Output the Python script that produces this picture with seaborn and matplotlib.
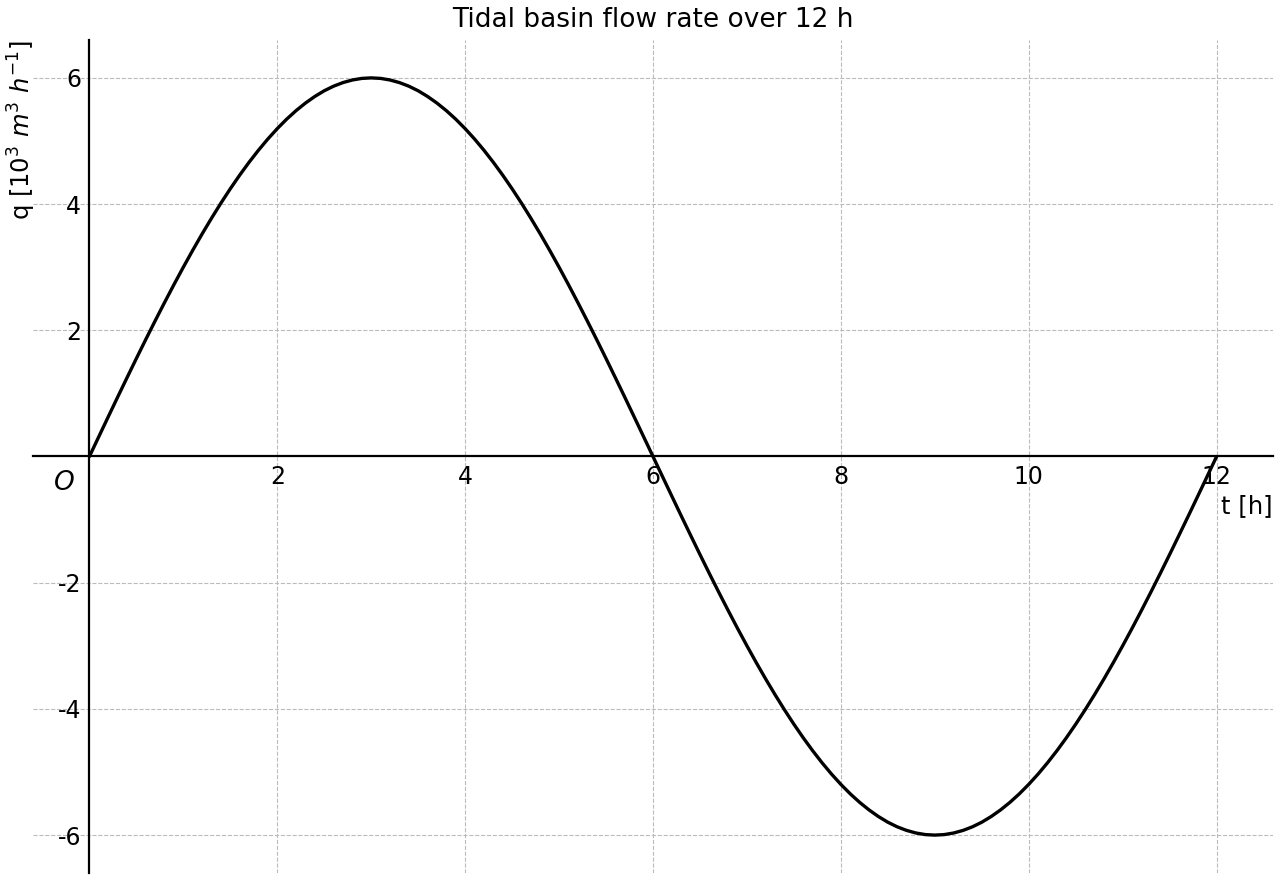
import matplotlib
matplotlib.use("Agg")
import matplotlib.pyplot as plt
import seaborn as sns
import pandas as pd

# time [h] (read at 0.1 h steps)
t_hours = [
    0.0, 0.1, 0.2, 0.3, 0.4, 0.5, 0.6, 0.7, 0.8, 0.9,
    1.0, 1.1, 1.2, 1.3, 1.4, 1.5, 1.6, 1.7, 1.8, 1.9,
    2.0, 2.1, 2.2, 2.3, 2.4, 2.5, 2.6, 2.7, 2.8, 2.9,
    3.0, 3.1, 3.2, 3.3, 3.4, 3.5, 3.6, 3.7, 3.8, 3.9,
    4.0, 4.1, 4.2, 4.3, 4.4, 4.5, 4.6, 4.7, 4.8, 4.9,
    5.0, 5.1, 5.2, 5.3, 5.4, 5.5, 5.6, 5.7, 5.8, 5.9,
    6.0, 6.1, 6.2, 6.3, 6.4, 6.5, 6.6, 6.7, 6.8, 6.9,
    7.0, 7.1, 7.2, 7.3, 7.4, 7.5, 7.6, 7.7, 7.8, 7.9,
    8.0, 8.1, 8.2, 8.3, 8.4, 8.5, 8.6, 8.7, 8.8, 8.9,
    9.0, 9.1, 9.2, 9.3, 9.4, 9.5, 9.6, 9.7, 9.8, 9.9,
    10.0, 10.1, 10.2, 10.3, 10.4, 10.5, 10.6, 10.7, 10.8, 10.9,
    11.0, 11.1, 11.2, 11.3, 11.4, 11.5, 11.6, 11.7, 11.8, 11.9,
    12.0]
# flow rate [10^3 m^3 / h]
q_flow = [
    0.000, 0.314, 0.627, 0.939, 1.247, 1.553, 1.854, 2.150, 2.440, 2.724,
    3.000, 3.268, 3.527, 3.776, 4.015, 4.243, 4.459, 4.663, 4.854, 5.032,
    5.196, 5.346, 5.481, 5.601, 5.706, 5.796, 5.869, 5.926, 5.967, 5.992,
    6.000, 5.992, 5.967, 5.926, 5.869, 5.796, 5.706, 5.601, 5.481, 5.346,
    5.196, 5.032, 4.854, 4.663, 4.459, 4.243, 4.015, 3.776, 3.527, 3.268,
    3.000, 2.724, 2.440, 2.150, 1.854, 1.553, 1.247, 0.939, 0.627, 0.314,
    0.000, -0.314, -0.627, -0.939, -1.247, -1.553, -1.854, -2.150, -2.440, -2.724,
    -3.000, -3.268, -3.527, -3.776, -4.015, -4.243, -4.459, -4.663, -4.854, -5.032,
    -5.196, -5.346, -5.481, -5.601, -5.706, -5.796, -5.869, -5.926, -5.967, -5.992,
    -6.000, -5.992, -5.967, -5.926, -5.869, -5.796, -5.706, -5.601, -5.481, -5.346,
    -5.196, -5.032, -4.854, -4.663, -4.459, -4.243, -4.015, -3.776, -3.527, -3.268,
    -3.000, -2.724, -2.440, -2.150, -1.854, -1.553, -1.247, -0.939, -0.627, -0.314,
    0.000]
x_ticks = [2, 4, 6, 8, 10, 12]
y_ticks = [-6, -4, -2, 2, 4, 6]
title = "Tidal basin flow rate over 12 h"
x_label = "t [h]"
y_label = r"q [$10^3\ m^3\ h^{-1}$]"

sns.set_style("white")
plt.rcParams["font.family"] = ["DejaVu Sans"]
plt.rcParams["axes.unicode_minus"] = False
plt.rcParams["text.color"] = "black"
plt.rcParams["axes.labelcolor"] = "black"

df = pd.DataFrame({"t": t_hours, "q": q_flow})

fig = plt.figure(figsize=(12.8, 8.8), dpi=100)
ax = fig.add_axes([0.0258, 0.008, 0.9687, 0.9465])
sns.lineplot(data=df, x="t", y="q", color="black", linewidth=2.4, ax=ax, sort=False)

ax.set_xlim(-0.6, 12.6)
ax.set_ylim(-6.6, 6.6)
ax.set_xticks(x_ticks)
ax.set_yticks(y_ticks)
ax.set_xticklabels([str(v) for v in x_ticks])
ax.set_yticklabels([str(v) for v in y_ticks])

ax.spines["left"].set_position(("data", 0))
ax.spines["bottom"].set_position(("data", 0))
ax.spines["top"].set_visible(False)
ax.spines["right"].set_visible(False)
for s in ("left", "bottom"):
    ax.spines[s].set_linewidth(1.6)
    ax.spines[s].set_color("black")

ax.tick_params(axis="both", direction="in", length=7, width=1.5, labelsize=17, pad=6,
               colors="black")
ax.grid(True, linestyle="--", color="#bbbbbb", linewidth=0.8)
ax.set_axisbelow(True)

ax.set_title(title, fontsize=19, pad=9.5, color="black")
ax.set_xlabel(x_label, fontsize=17.5, loc="right")
ax.xaxis.set_label_coords(1.0, 0.455)
ax.set_ylabel(y_label, fontsize=17.5, loc="top")
ax.yaxis.set_label_coords(0.004, 1.0)

ax.text(-0.27, -0.42, "O", fontsize=19, fontstyle="italic", ha="center", va="center")

fig.savefig("out.png", dpi=100)
